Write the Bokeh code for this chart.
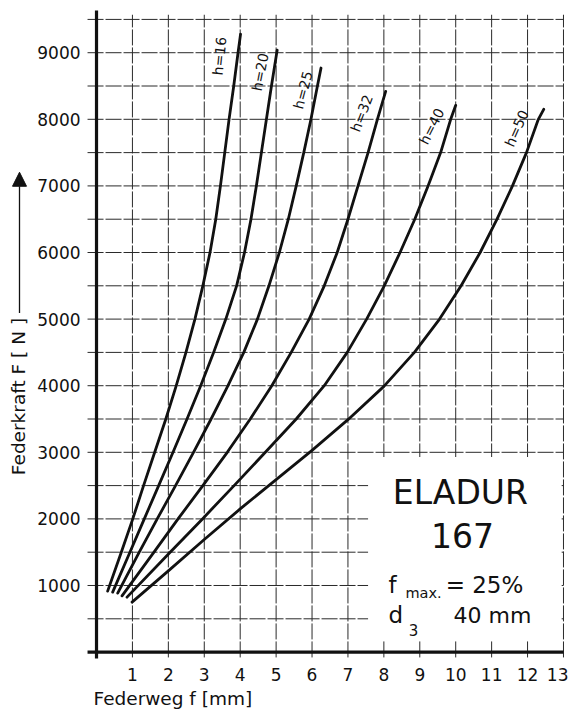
import math
from bokeh.plotting import figure
from bokeh.models import Range1d, FixedTicker, Label, Arrow, NormalHead
from bokeh.core.properties import value
from bokeh.embed import file_html
from bokeh.resources import INLINE

# ---------------- data ----------------
curve_names = ["h=16", "h=20", "h=25", "h=32", "h=40", "h=50"]

f_h16 = [0.31, 0.69, 1.01, 1.31, 1.62, 1.93, 2.22, 2.49, 2.74, 2.96, 3.16, 3.32, 3.45, 3.57, 3.69, 3.82, 3.94, 4.01]
F_h16 = [915, 1500, 2000, 2500, 3000, 3500, 4000, 4500, 5000, 5500, 6000, 6500, 7000, 7500, 8000, 8500, 9000, 9280]

f_h20 = [0.45, 0.93, 1.33, 1.73, 2.13, 2.52, 2.90, 3.26, 3.60, 3.90, 4.12, 4.30, 4.45, 4.59, 4.73, 4.87, 5.03]
F_h20 = [900, 1500, 2000, 2500, 3000, 3500, 4000, 4500, 5000, 5500, 6000, 6500, 7000, 7500, 8000, 8500, 9040]

f_h25 = [0.59, 1.19, 1.69, 2.20, 2.70, 3.19, 3.66, 4.10, 4.48, 4.80, 5.09, 5.34, 5.56, 5.77, 5.97, 6.15, 6.25]
F_h25 = [885, 1500, 2000, 2500, 3000, 3500, 4000, 4500, 5000, 5500, 6000, 6500, 7000, 7500, 8000, 8500, 8770]

f_h32 = [0.71, 1.60, 2.27, 2.96, 3.64, 4.28, 4.88, 5.42, 5.92, 6.34, 6.70, 7.00, 7.28, 7.56, 7.82, 8.05]
F_h32 = [845, 1500, 2000, 2500, 3000, 3500, 4000, 4500, 5000, 5500, 6000, 6500, 7000, 7500, 8000, 8420]

f_h40 = [0.85, 2.05, 2.95, 3.83, 4.70, 5.56, 6.34, 6.98, 7.52, 8.01, 8.45, 8.86, 9.23, 9.58, 9.86, 10.00]
F_h40 = [825, 1500, 2000, 2500, 3000, 3500, 4000, 4500, 5000, 5500, 6000, 6500, 7000, 7500, 8000, 8210]

f_h50 = [0.99, 2.00, 3.00, 4.00, 5.00, 6.00, 7.00, 8.00, 8.85, 9.55, 10.15, 10.68, 11.15, 11.58, 11.97, 12.30, 12.45]
F_h50 = [750, 1220, 1690, 2150, 2590, 3030, 3490, 3990, 4500, 5000, 5500, 6000, 6500, 7000, 7500, 8000, 8150]

x_ticks = [1, 2, 3, 4, 5, 6, 7, 8, 9, 10, 11, 12, 13]
y_ticks = [1000, 2000, 3000, 4000, 5000, 6000, 7000, 8000, 9000]
y_grid = [500 * k for k in range(1, 20)]          # 500 ... 9500
x_grid = x_ticks

info_title = "ELADUR"
info_number = "167"

curves_f = [f_h16, f_h20, f_h25, f_h32, f_h40, f_h50]
curves_F = [F_h16, F_h20, F_h25, F_h32, F_h40, F_h50]

# ---------------- styling / layout ----------------
label_angle_deg = [84, 79, 75, 69, 63, 66]
label_dx = [-21, -17, -18, -24, -24, -27]
label_dy = [22, 22, 22, 22, 21, 19]

TICK_FONT = "DejaVu Sans"
TITLE_FONT = "DejaVu Sans"
INK = "#111111"
GRID = "#2a2a2a"

# the frame covers the whole canvas; axes are pinned near x=0 / y=0
p = figure(width=568, height=713,
           x_range=Range1d(-2.673, 13.14), y_range=Range1d(-922, 9784),
           min_border=0, min_border_left=0, min_border_right=0,
           min_border_top=0, min_border_bottom=0,
           output_backend="svg", toolbar_location=None)
p.outline_line_color = None
p.background_fill_color = "white"
p.border_fill_color = "white"
p.xgrid.visible = False
p.ygrid.visible = False

for ax in (p.xaxis[0], p.yaxis[0]):
    ax.axis_line_color = None
    ax.major_tick_line_color = None
    ax.minor_tick_line_color = None
    ax.major_tick_out = 0
    ax.major_tick_in = 0
    ax.major_label_text_font = TICK_FONT
    ax.major_label_text_font_size = "17px"
    ax.major_label_text_color = INK
p.xaxis.ticker = FixedTicker(ticks=x_ticks)
p.yaxis.ticker = FixedTicker(ticks=y_ticks)
p.xaxis[0].fixed_location = -100
p.yaxis[0].fixed_location = -0.25
p.xaxis.major_label_standoff = 9
p.yaxis.major_label_standoff = 7

# grid (hand-drawn look: thin slightly broken lines)
gx_lo, gx_hi = -0.25, 13.0
gy_lo, gy_hi = -80, 9570
p.segment(x0=[gx_lo] * len(y_grid), y0=y_grid, x1=[gx_hi] * len(y_grid), y1=y_grid,
          line_color=GRID, line_width=1, line_dash="16 2")
p.segment(x0=x_grid, y0=[gy_lo] * len(x_grid), x1=x_grid, y1=[gy_hi] * len(x_grid),
          line_color=GRID, line_width=1, line_dash="16 2")

# blank panel for the material caption (grid removed there)
p.quad(left=[7.56], right=[12.95], bottom=[175], top=[2930],
       fill_color="white", line_color=None)

# heavy axis lines
p.segment(x0=[0], y0=[-96], x1=[0], y1=[9634], line_color=INK, line_width=3.2)
p.segment(x0=[-0.25], y0=[0], x1=[13.0], y1=[0], line_color=INK, line_width=3.2)

# curves
for fs, Fs in zip(curves_f, curves_F):
    p.line(fs, Fs, line_color=INK, line_width=2.8, line_cap="round", line_join="round")

# curve labels at the upper ends of the curves
p.text(x=[fs[-1] for fs in curves_f], y=[Fs[-1] for Fs in curves_F], text=curve_names,
       angle=[math.radians(a) for a in label_angle_deg],
       x_offset=label_dx, y_offset=label_dy,
       text_font=value(TICK_FONT), text_font_size="14px", text_color=INK,
       text_align="center", text_baseline="middle")

# caption block
def lab(x, y, t, size, align="left", base="alphabetic", font=TICK_FONT, angle=0.0):
    p.add_layout(Label(x=x, y=y, text=t, text_font=font, text_font_size=size,
                       text_color=INK, text_align=align, text_baseline=base, angle=angle))

lab(10.13, 2396, info_title, "33px", align="center", base="middle")
lab(10.19, 1751, info_number, "33px", align="center", base="middle")
lab(8.13, 1000, "f", "23px")
lab(8.60, 880, "max.", "14.5px")
lab(9.72, 1000, "= 25%", "23px")
lab(8.13, 550, "d", "23px")
lab(8.69, 330, "3", "15px")
lab(9.94, 550, "40 mm", "22px")

# axis titles
lab(-0.084, -697, "Federweg f [mm]", "18.5px", base="middle", font=TITLE_FONT)
lab(-2.17, 3838, "Federkraft F [ N ]", "18.5px", align="center", base="middle",
    font=TITLE_FONT, angle=math.pi / 2)
p.add_layout(Arrow(x_start=-2.144, y_start=5090, x_end=-2.144, y_end=7205,
                   line_color=INK, line_width=1.3,
                   end=NormalHead(size=14, fill_color=INK, line_color=INK, line_width=1)))

open("out.html", "w").write(file_html(p, INLINE))
